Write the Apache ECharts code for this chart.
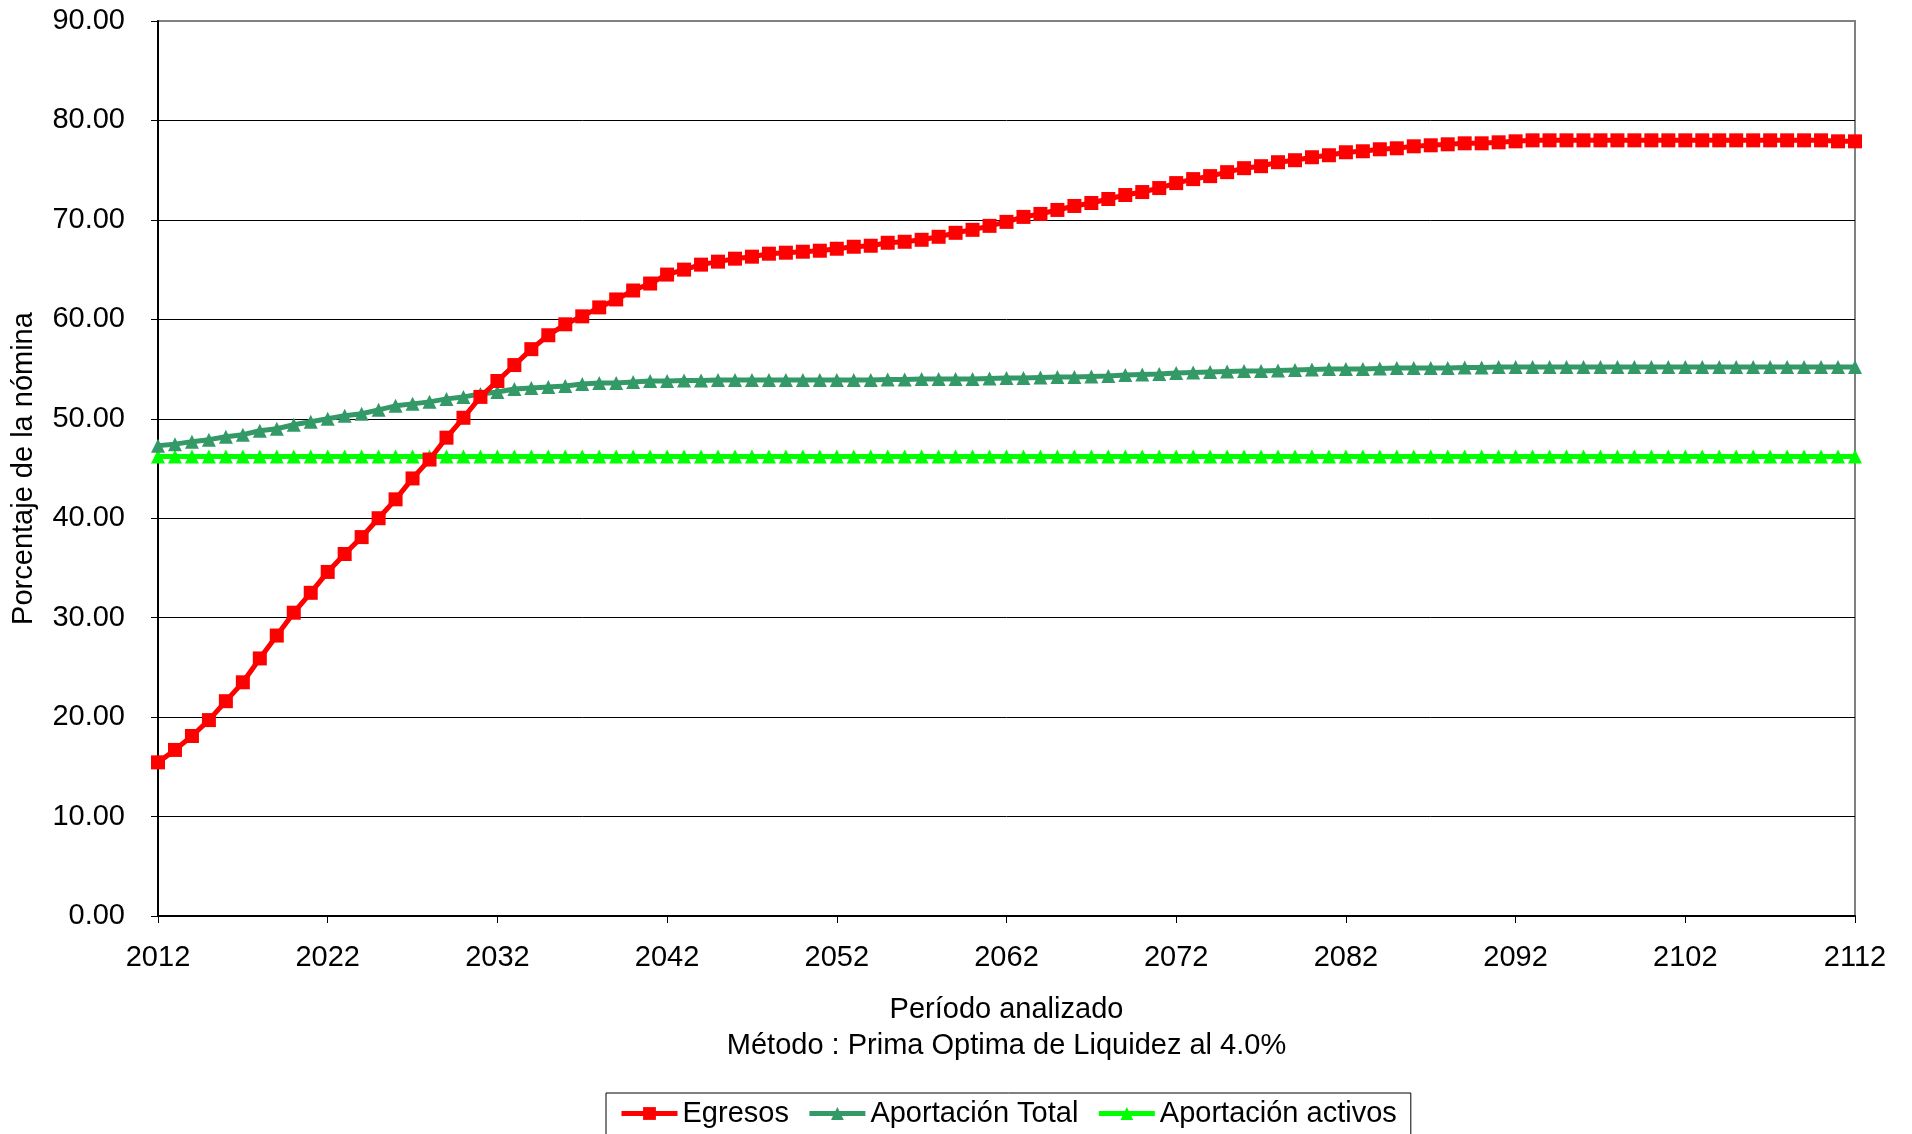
<!DOCTYPE html>
<html><head><meta charset="utf-8">
<script src="https://cdn.jsdelivr.net/npm/echarts@6/dist/echarts.min.js"></script>
<style>html,body{margin:0;padding:0;background:#fff}#c{width:1912px;height:1134px}</style>
</head><body><div id="c"></div>
<script>
const years = [];
for (let y = 2012; y <= 2112; y++) years.push(String(y));

const egresos = [
15.45,16.7,18.1,19.7,21.6,23.5,25.9,28.2,30.5,32.5,
34.6,36.4,38.1,40.0,41.9,44.0,45.9,48.1,50.1,52.2,
53.8,55.4,57.0,58.4,59.5,60.3,61.2,62.0,62.9,63.6,
64.5,65.0,65.5,65.8,66.1,66.3,66.6,66.7,66.8,66.9,
67.1,67.3,67.4,67.7,67.8,68.0,68.3,68.7,69.0,69.4,
69.8,70.3,70.6,71.0,71.4,71.7,72.1,72.5,72.8,73.2,
73.7,74.1,74.4,74.8,75.2,75.4,75.8,76.0,76.3,76.5,
76.8,76.9,77.1,77.2,77.4,77.5,77.6,77.7,77.7,77.8,
77.9,78.0,78.0,78.0,78.0,78.0,78.0,78.0,78.0,78.0,
78.0,78.0,78.0,78.0,78.0,78.0,78.0,78.0,78.0,77.9,
77.9
];

const aportacionTotal = [
47.3,47.45,47.7,47.9,48.2,48.4,48.8,49.0,49.4,49.7,
50.0,50.3,50.5,50.9,51.3,51.5,51.7,52.0,52.2,52.5,
52.7,53.0,53.1,53.2,53.3,53.5,53.6,53.6,53.7,53.8,
53.8,53.85,53.85,53.9,53.9,53.9,53.9,53.9,53.9,53.9,
53.9,53.9,53.9,53.95,53.95,54.0,54.0,54.0,54.0,54.05,
54.1,54.1,54.15,54.2,54.2,54.25,54.3,54.4,54.45,54.5,
54.6,54.65,54.7,54.75,54.8,54.8,54.85,54.9,54.95,55.0,
55.0,55.0,55.05,55.1,55.1,55.1,55.1,55.15,55.15,55.2,
55.2,55.2,55.2,55.2,55.2,55.2,55.2,55.2,55.2,55.2,
55.2,55.2,55.2,55.2,55.2,55.2,55.2,55.2,55.2,55.2,
55.2
];

const aportacionActivos = years.map(() => 46.2);

const yTicks = [0,10,20,30,40,50,60,70,80,90];

const FONT = '"Liberation Sans", Arial, sans-serif';
const chart = echarts.init(document.getElementById('c'), null, {renderer:'canvas'});
const gridColors = yTicks.map((v,i) => i === yTicks.length-1 ? '#808080' : '#000000');

chart.setOption({
  animation: false,
  backgroundColor: '#ffffff',
  textStyle: {fontFamily: FONT},
  grid: {left: 158, right: 57, top: 21, bottom: 218, show: true, borderColor: '#808080', borderWidth: 2, backgroundColor: 'transparent'},
  legend: {
    data: ['Egresos','Aportación Total','Aportación activos'],
    left: 606, top: 1093,
    borderColor: '#000', borderWidth: 1, padding: [6, 14, 12, 13],
    itemWidth: 56, itemHeight: 16, itemGap: 18,
    lineStyle: {width: 5},
    textStyle: {fontSize: 29, color: '#000', fontFamily: FONT}
  },
  xAxis: {
    type: 'category', data: years, boundaryGap: false,
    name: 'Período analizado\nMétodo : Prima Optima de Liquidez al 4.0%',
    nameLocation: 'middle', nameGap: 76,
    nameTextStyle: {fontSize: 29, color: '#000', lineHeight: 36, fontFamily: FONT},
    axisLine: {lineStyle: {color: '#000', width: 2}},
    axisTick: {show: true, interval: 9, length: 7, lineStyle: {color: '#000'}},
    axisLabel: {interval: 9, fontSize: 29, color: '#000', margin: 27, fontFamily: FONT},
    splitLine: {show: false}
  },
  yAxis: {
    type: 'value', min: 0, max: 90, interval: 10,
    name: 'Porcentaje de la nómina', nameLocation: 'middle', nameGap: 120,
    nameTextStyle: {fontSize: 29, color: '#000', fontFamily: FONT},
    axisLine: {show: true, lineStyle: {color: '#000', width: 2}},
    axisTick: {show: true, length: 7, lineStyle: {color: '#000'}},
    axisLabel: {fontSize: 29, color: '#000', margin: 33, fontFamily: FONT, formatter: v => v.toFixed(2)},
    splitLine: {show: true, lineStyle: {color: gridColors, width: 1}}
  },
  series: [
    {name: 'Egresos', type: 'line', data: egresos, symbol: 'rect', symbolSize: 14, showAllSymbol: true,
     itemStyle: {color: '#ff0000'}, lineStyle: {color: '#ff0000', width: 5}, z: 3},
    {name: 'Aportación Total', type: 'line', data: aportacionTotal, symbol: 'triangle', symbolSize: 14, showAllSymbol: true,
     itemStyle: {color: '#339966'}, lineStyle: {color: '#339966', width: 5}, z: 2},
    {name: 'Aportación activos', type: 'line', data: aportacionActivos, symbol: 'triangle', symbolSize: 14, showAllSymbol: true,
     itemStyle: {color: '#00ff00'}, lineStyle: {color: '#00ff00', width: 5}, z: 1}
  ]
});
</script></body></html>
